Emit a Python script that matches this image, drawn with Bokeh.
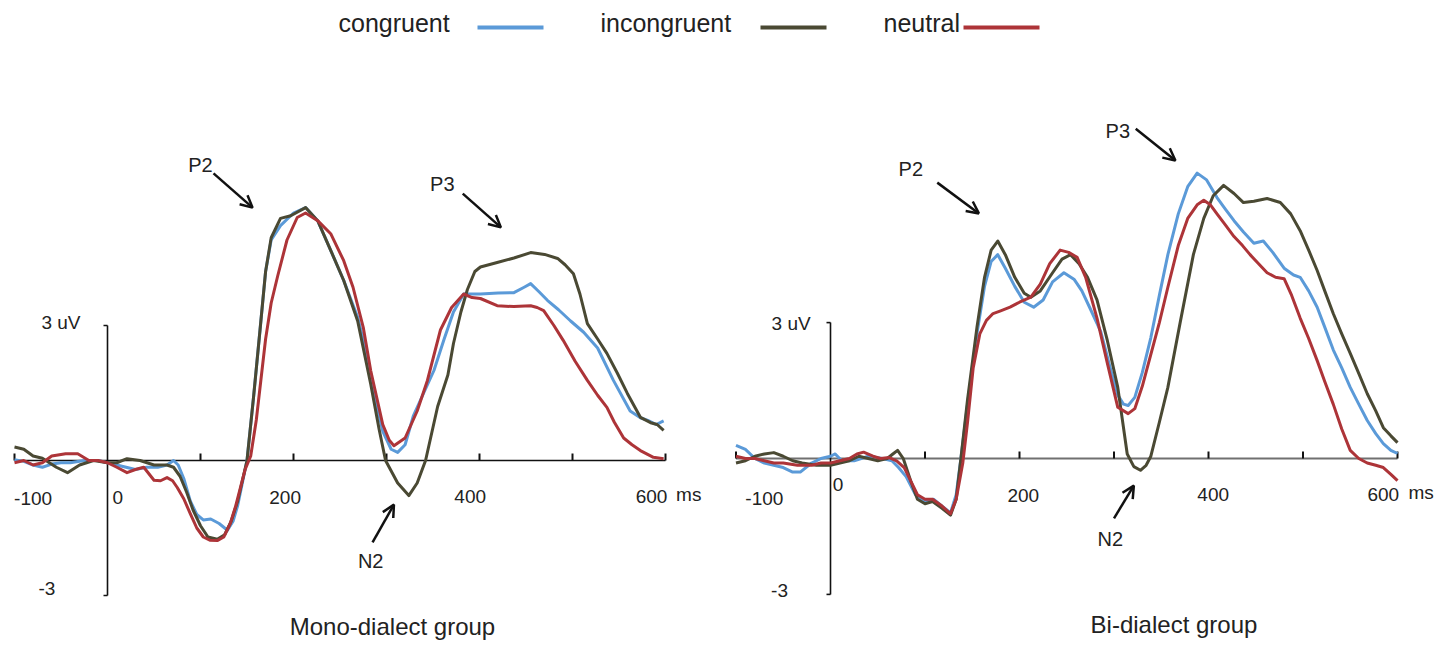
from bokeh.plotting import figure
from bokeh.layouts import column, row
from bokeh.models import Range1d, Arrow, OpenHead
from bokeh.core.properties import value
from bokeh.embed import file_html
from bokeh.resources import INLINE

# ---------------- data ----------------
series_names = ["congruent", "incongruent", "neutral"]
series_colors = ["#5B9AD8", "#4A4933", "#AD3438"]

mono_congruent_ms = [-100,-90,-80,-70,-60,-50,-40,-25,-10,0,10,20,30,42,54,64,71,76,82,89,96,103,111,120,129,135,140,145,150,157,164,170,176,186,200,213,226,240,254,269,276,283,296,305,312,320,329,340,351,362,372,383,401,420,437,448,455,464,473,485,498,512,527,544,562,573,581,590,598]
mono_congruent_uv = [0.02,-0.02,-0.1,-0.15,-0.08,-0.05,-0.05,0.0,0.0,-0.05,-0.1,-0.15,-0.2,-0.15,-0.15,-0.1,0.0,-0.1,-0.4,-0.9,-1.2,-1.32,-1.3,-1.4,-1.55,-1.35,-1.0,-0.5,0.0,1.4,2.9,4.2,4.9,5.22,5.5,5.62,5.33,4.67,4.0,3.18,2.6,1.8,0.65,0.25,0.18,0.35,1.0,1.5,2.0,2.7,3.3,3.7,3.7,3.72,3.73,3.85,3.93,3.75,3.56,3.35,3.1,2.85,2.5,1.78,1.1,0.95,0.89,0.8,0.88]

mono_incongruent_ms = [-100,-90,-80,-70,-55,-43,-30,-15,0,10,21,35,50,64,71,78,85,92,100,108,118,126,133,140,145,150,157,164,170,176,186,197,213,226,240,254,269,283,292,299,312,324,333,342,355,366,372,380,387,395,401,419,437,455,470,484,492,501,508,516,527,537,548,559,573,584,591,598]
mono_incongruent_uv = [0.3,0.25,0.1,0.05,-0.15,-0.27,-0.1,0.0,-0.05,-0.05,0.04,0.0,-0.1,-0.1,-0.15,-0.35,-0.7,-1.1,-1.45,-1.7,-1.75,-1.65,-1.35,-0.9,-0.45,0.0,1.4,2.9,4.2,4.95,5.38,5.44,5.62,5.33,4.67,4.0,3.1,1.7,0.7,0.0,-0.5,-0.78,-0.5,0.0,1.2,1.9,2.6,3.3,3.8,4.2,4.3,4.4,4.5,4.62,4.58,4.49,4.35,4.15,3.7,3.04,2.7,2.38,1.95,1.49,0.96,0.84,0.8,0.67]

mono_neutral_ms = [-100,-90,-80,-70,-60,-45,-32,-20,-10,0,10,21,30,39,50,57,64,70,75,82,89,96,103,110,118,125,132,138,143,148,154,160,165,170,176,183,193,204,213,226,240,254,264,275,283,296,303,308,320,333,344,358,370,383,392,401,419,437,455,462,469,480,490,503,516,527,537,545,555,564,573,587,598]
mono_neutral_uv = [-0.05,0.0,-0.1,-0.05,0.1,0.15,0.15,0.0,0.0,-0.05,-0.15,-0.27,-0.2,-0.15,-0.44,-0.45,-0.38,-0.45,-0.6,-0.85,-1.18,-1.5,-1.7,-1.77,-1.78,-1.7,-1.4,-1.0,-0.6,-0.2,0.1,0.9,1.8,2.7,3.5,4.1,4.9,5.4,5.5,5.33,5.04,4.44,3.85,2.96,2.0,0.8,0.45,0.33,0.5,1.1,1.78,2.9,3.4,3.7,3.62,3.6,3.44,3.42,3.44,3.4,3.33,3.0,2.67,2.2,1.78,1.45,1.18,0.85,0.5,0.35,0.22,0.07,0.04]

bi_congruent_ms = [-100,-90,-80,-70,-50,-40,-32,-20,-10,0,5,12,25,40,55,65,72,80,90,100,109,118,127,133,138,145,155,163,170,177,185,195,205,215,225,235,247,258,266,275,286,296,304,310,315,322,330,339,348,357,368,378,388,398,409,418,427,437,448,458,468,480,490,497,506,515,523,532,541,550,559,568,577,585,593,600]
bi_congruent_uv = [0.29,0.2,0.0,-0.1,-0.2,-0.3,-0.3,-0.1,0.0,0.05,0.1,-0.05,-0.05,0.05,0.0,-0.05,-0.2,-0.4,-0.8,-0.95,-0.9,-1.05,-1.2,-0.8,0.0,1.2,2.76,3.8,4.35,4.5,4.2,3.8,3.45,3.34,3.5,3.9,4.1,3.95,3.7,3.3,2.8,2.0,1.4,1.2,1.17,1.35,1.9,2.67,3.6,4.5,5.4,6.0,6.3,6.15,5.76,5.5,5.25,5.0,4.75,4.8,4.55,4.2,4.05,4.0,3.7,3.34,2.9,2.4,2.0,1.57,1.2,0.84,0.55,0.33,0.18,0.11]

bi_incongruent_ms = [-100,-90,-80,-70,-60,-50,-40,-30,-15,0,10,20,30,40,50,60,66,71,77,85,92,100,108,118,127,133,138,145,155,163,170,177,185,195,205,212,222,235,245,254,263,272,282,293,304,314,321,328,334,339,348,357,370,384,395,405,416,427,437,448,462,476,487,497,506,515,523,532,541,550,559,568,577,585,593,600]
bi_incongruent_uv = [-0.1,-0.05,0.05,0.1,0.13,0.05,-0.05,-0.1,-0.15,-0.15,-0.1,-0.05,0.05,0.0,-0.05,0.0,0.1,0.18,0.0,-0.5,-0.9,-1.0,-0.95,-1.1,-1.25,-0.9,0.0,1.3,2.9,4.0,4.6,4.8,4.5,4.0,3.65,3.56,3.7,4.1,4.4,4.5,4.3,4.0,3.5,2.6,1.57,0.1,-0.18,-0.26,-0.15,0.05,0.8,1.57,3.0,4.5,5.3,5.8,6.03,5.85,5.65,5.68,5.74,5.65,5.4,5.03,4.6,4.15,3.7,3.2,2.75,2.32,1.88,1.43,1.05,0.68,0.5,0.35]

bi_neutral_ms = [-100,-90,-80,-70,-60,-50,-35,-20,-10,0,10,20,28,35,45,53,62,70,78,85,92,100,108,118,127,133,140,145,151,158,165,172,180,190,200,212,222,232,243,252,261,270,282,293,304,315,322,330,339,348,357,368,378,388,395,402,409,418,427,436,444,453,462,471,480,488,497,506,515,523,532,541,550,559,568,577,585,593,600]
bi_neutral_uv = [0.05,0.0,0.0,-0.05,-0.1,-0.1,-0.15,-0.15,-0.1,-0.1,-0.05,0.0,0.1,0.14,0.05,0.0,0.02,-0.05,-0.2,-0.5,-0.8,-0.9,-0.9,-1.05,-1.22,-0.9,-0.1,0.8,2.0,2.75,3.05,3.2,3.26,3.34,3.45,3.56,3.85,4.3,4.6,4.55,4.44,4.0,3.1,2.1,1.13,0.99,1.1,1.6,2.3,3.0,3.78,4.7,5.3,5.6,5.7,5.6,5.4,5.15,4.9,4.7,4.5,4.3,4.1,4.0,3.97,3.6,3.1,2.65,2.16,1.7,1.2,0.65,0.18,0.0,-0.1,-0.15,-0.2,-0.35,-0.49]

time_start, time_end = -100, 600
x_tick_values = [-100, 100, 200, 300, 400, 500, 600]
x_label_values = [-100, 0, 200, 400, 600]
x_label_texts = ["-100", "0", "200", "400", "600"]
y_axis_limits = [-3, 3]
y_label_texts = ["3 uV", "-3"]
component_names = ["P2", "P3", "N2"]
panel_titles = ["Mono-dialect  group", "Bi-dialect  group"]

FONT = "Liberation Sans"

# ---------------- layout helpers ----------------
def base_fig(w, h, xr, yr):
    p = figure(width=w, height=h, x_range=Range1d(*xr), y_range=Range1d(*yr),
               output_backend="svg", toolbar_location=None, tools="",
               x_axis_location=None, y_axis_location=None, min_border=0)
    p.grid.visible = False
    p.outline_line_color = None
    p.background_fill_color = "white"
    p.border_fill_color = "white"
    return p


def make_panel(w, h, x0_px, px_per_ms, zero_py, px_per_uv, page_left, page_top,
               curves, zero_color, zero_width, label_pos, ylabel_pos, ann, title_pos, title):
    xr = ((page_left - x0_px) / px_per_ms, (page_left + w - x0_px) / px_per_ms)
    yr = ((zero_py - (page_top + h)) / px_per_uv, (zero_py - page_top) / px_per_uv)
    p = base_fig(w, h, xr, yr)
    tick_len = 7 / px_per_uv
    ytick_len = 4 / px_per_ms
    # zero line and y axis
    p.line([time_start, time_end], [0, 0], line_color=zero_color, line_width=zero_width)
    p.line([0, 0], y_axis_limits, line_color="#111111", line_width=1.6)
    p.segment(x0=[-ytick_len] * 2, x1=[0] * 2, y0=y_axis_limits, y1=y_axis_limits,
              line_color="#111111", line_width=1.6)
    p.segment(x0=x_tick_values, x1=x_tick_values, y0=[0] * len(x_tick_values),
              y1=[tick_len] * len(x_tick_values), line_color="#111111", line_width=2)
    # curves
    for (ms, uv), col in zip(curves, series_colors):
        p.line(ms, uv, line_color=col, line_width=3, line_join="round")
    # tick labels
    lx, ly = label_pos
    p.text(x=lx, y=ly, text=x_label_texts, text_font=value(FONT), text_font_size="19px",
           text_color="#222222", text_align="center", text_baseline="middle")
    p.text(x=[lx[-1] + 40], y=[ly[-1] + 0.05], text=["ms"], text_font=value(FONT),
           text_font_size="19px", text_color="#222222", text_align="center", text_baseline="middle")
    yx, yy = ylabel_pos
    p.text(x=yx, y=yy, text=y_label_texts, text_font=value(FONT), text_font_size="19px",
           text_color="#222222", text_align="right", text_baseline="middle")
    # component annotations
    tx, ty, arrows = ann
    p.text(x=tx, y=ty, text=component_names, text_font=value(FONT), text_font_size="20px",
           text_color="#222222", text_align="center", text_baseline="middle")
    for (xs, ys, xe, ye) in arrows:
        p.add_layout(Arrow(end=OpenHead(size=12, line_width=2.5, line_color="#111111"),
                           x_start=xs, y_start=ys, x_end=xe, y_end=ye,
                           line_width=2.5, line_color="#111111"))
    p.text(x=[title_pos[0]], y=[title_pos[1]], text=[title], text_font=value(FONT),
           text_font_size="24px", text_color="#222222", text_align="center", text_baseline="middle")
    return p


H_LEG = 60
H_PAN = 585

left = make_panel(
    720, H_PAN, 107, 0.93, 460, 45.0, 0, H_LEG,
    [(mono_congruent_ms, mono_congruent_uv), (mono_incongruent_ms, mono_incongruent_uv),
     (mono_neutral_ms, mono_neutral_uv)],
    "#111111", 1.6,
    ([-80, 11, 191, 390, 585], [-0.85, -0.82, -0.82, -0.8, -0.8]),
    ([-29, -56], [3.07, -2.84]),
    ([100, 360, 283], [6.56, 6.14, -2.24],
     [(114, 6.38, 156, 5.62), (382, 5.93, 423, 5.18), (285, -1.82, 308, -0.98)]),
    (310, -3.68), panel_titles[0])

right = make_panel(
    719, H_PAN, 830, 0.945, 458, 45.3, 720, H_LEG,
    [(bi_congruent_ms, bi_congruent_uv), (bi_incongruent_ms, bi_incongruent_uv),
     (bi_neutral_ms, bi_neutral_uv)],
    "#707070", 2.0,
    ([-70, 8, 204, 405, 585], [-0.88, -0.57, -0.82, -0.8, -0.8]),
    ([-21, -45], [2.98, -2.91]),
    ([85, 304, 296], [6.4, 7.24, -1.77],
     [(113, 6.09, 157, 5.41), (323, 7.28, 365, 6.58), (300, -1.32, 321, -0.6)]),
    (367, -3.66), panel_titles[1])

# legend strip (page-pixel coordinates)
leg = base_fig(1439, H_LEG, (0, 1439), (H_LEG, 0))
leg_text_x = [338, 600, 883]
leg_line_x0 = [477, 760, 963]
leg_line_x1 = [543, 826, 1039]
leg.text(x=leg_text_x, y=[22] * 3, text=series_names, text_font=value(FONT),
         text_font_size="25px", text_color="#222222", text_align="left", text_baseline="middle")
leg.segment(x0=leg_line_x0, x1=leg_line_x1, y0=[27] * 3, y1=[27] * 3,
            line_color=series_colors, line_width=4)

layout = column(leg, row(left, right))
open("out.html", "w").write(file_html(layout, INLINE))
